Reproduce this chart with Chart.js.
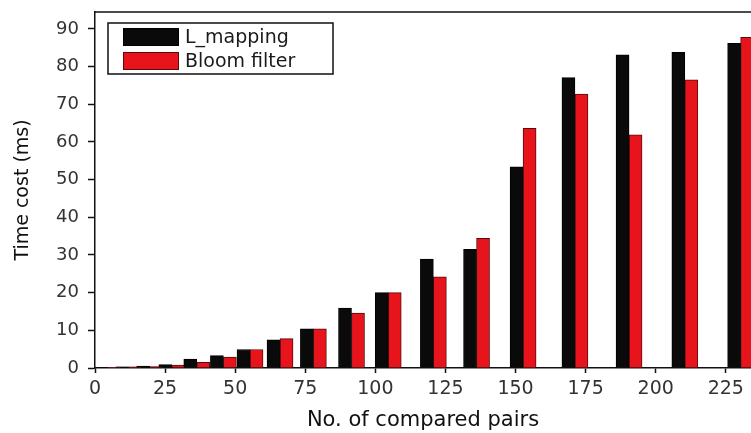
<!DOCTYPE html>
<html>
<head>
<meta charset="utf-8">
<script src="https://cdn.jsdelivr.net/npm/chart.js@4/dist/chart.umd.min.js"></script>
<style>
  html, body { margin: 0; padding: 0; background: #ffffff; }
  #wrap { position: relative; width: 751px; height: 433px; }
</style>
</head>
<body>
<div id="wrap"><canvas id="c"></canvas></div>
<script>
// Number of compared pairs (x position of each bar pair)
const pairPositions = [4.5, 12, 19.5, 27.4, 36.3, 45.8, 55.3, 66, 77.9, 91.5, 104.6, 120.7, 136.1, 152.7, 171.2, 190.5, 210.4, 230.3];
// Time cost (ms)
const lMapping    = [0.2, 0.3, 0.5, 0.9, 2.4, 3.3, 4.9, 7.5, 10.4, 15.9, 20.0, 28.9, 31.5, 53.4, 77.1, 83.1, 83.8, 86.2];
const bloomFilter = [0.2, 0.3, 0.4, 0.8, 1.5, 2.9, 4.9, 7.8, 10.4, 14.6, 20.0, 24.2, 34.4, 63.6, 72.7, 61.9, 76.5, 87.8];
const seriesNames = ['L_mapping', 'Bloom filter'];
const xTickStep = 25;
const yTickStep = 10;
const xTitle = 'No. of compared pairs';
const yTitle = 'Time cost (ms)';

const toPoints = vals => vals.map((v, i) => ({ x: pairPositions[i], y: v }));

const legendAndFrame = {
  id: 'legendAndFrame',
  afterDraw(chart) {
    const { ctx, chartArea } = chart;
    ctx.save();
    // top frame line
    ctx.strokeStyle = '#111';
    ctx.lineWidth = 1.5;
    ctx.beginPath();
    ctx.moveTo(chartArea.left, chartArea.top);
    ctx.lineTo(chartArea.right, chartArea.top);
    ctx.stroke();
    // legend box
    const bx = chartArea.left + 13, by = chartArea.top + 11, bw = 225, bh = 51;
    ctx.fillStyle = '#ffffff';
    ctx.fillRect(bx, by, bw, bh);
    ctx.strokeStyle = '#111';
    ctx.lineWidth = 1.5;
    ctx.strokeRect(bx, by, bw, bh);
    const sw = 56, sh = 18;
    chart.data.datasets.forEach((ds, i) => {
      const sx = bx + 15, sy = by + 5 + i * 24;
      ctx.fillStyle = ds.backgroundColor;
      ctx.fillRect(sx, sy, sw, sh);
      ctx.strokeStyle = ds.borderColor;
      ctx.lineWidth = 1;
      ctx.strokeRect(sx + 0.5, sy + 0.5, sw - 1, sh - 1);
      ctx.fillStyle = '#1a1a1a';
      ctx.font = '19px "DejaVu Sans"';
      ctx.textBaseline = 'middle';
      ctx.textAlign = 'left';
      ctx.fillText(ds.label, sx + sw + 6, sy + sh / 2 + 1);
    });
    ctx.restore();
  }
};

new Chart(document.getElementById('c'), {
  type: 'bar',
  data: {
    datasets: [
      {
        label: seriesNames[0],
        data: toPoints(lMapping),
        backgroundColor: '#0a0a0a',
        borderColor: '#000000',
        borderWidth: 1
      },
      {
        label: seriesNames[1],
        data: toPoints(bloomFilter),
        backgroundColor: '#e8141c',
        borderColor: '#5a0a0c',
        borderWidth: 1
      }
    ]
  },
  options: {
    responsive: true,
    maintainAspectRatio: false,
    animation: false,
    layout: { padding: { top: 12, right: 0, left: 0, bottom: 0 } },
    datasets: { bar: { barThickness: 13, grouped: true } },
    plugins: {
      legend: { display: false },
      tooltip: { enabled: false }
    },
    scales: {
      x: {
        type: 'linear',
        min: 0,
        max: 234,
        offset: false,
        grid: { display: true, drawOnChartArea: false, offset: false, tickLength: 5, tickColor: '#111', tickWidth: 1.5 },
        border: { display: true, color: '#111', width: 1.5 },
        ticks: {
          stepSize: xTickStep,
          includeBounds: false,
          color: '#333',
          padding: 5,
          maxRotation: 0,
          autoSkip: false,
          font: { family: '"DejaVu Sans"', size: 19 }
        },
        afterFit: s => { s.height = 65; s.paddingRight = 0; },
        title: {
          display: true,
          text: xTitle,
          color: '#111',
          font: { family: '"DejaVu Sans"', size: 21 },
          padding: { top: 0, bottom: 0 }
        }
      },
      y: {
        min: 0,
        max: 94.5,
        grid: { display: true, drawOnChartArea: false, tickLength: 7, tickColor: '#111', tickWidth: 1.5 },
        border: { display: true, color: '#111', width: 1.5 },
        ticks: {
          stepSize: yTickStep,
          includeBounds: false,
          color: '#333',
          padding: 9,
          font: { family: '"DejaVu Sans"', size: 18 }
        },
        afterFit: s => { s.width = 95; s.paddingTop = 0; },
        title: {
          display: true,
          text: yTitle,
          color: '#111',
          font: { family: '"DejaVu Sans"', size: 19 },
          padding: { top: 12, bottom: 0 }
        }
      }
    }
  },
  plugins: [legendAndFrame]
});
</script>
</body>
</html>
